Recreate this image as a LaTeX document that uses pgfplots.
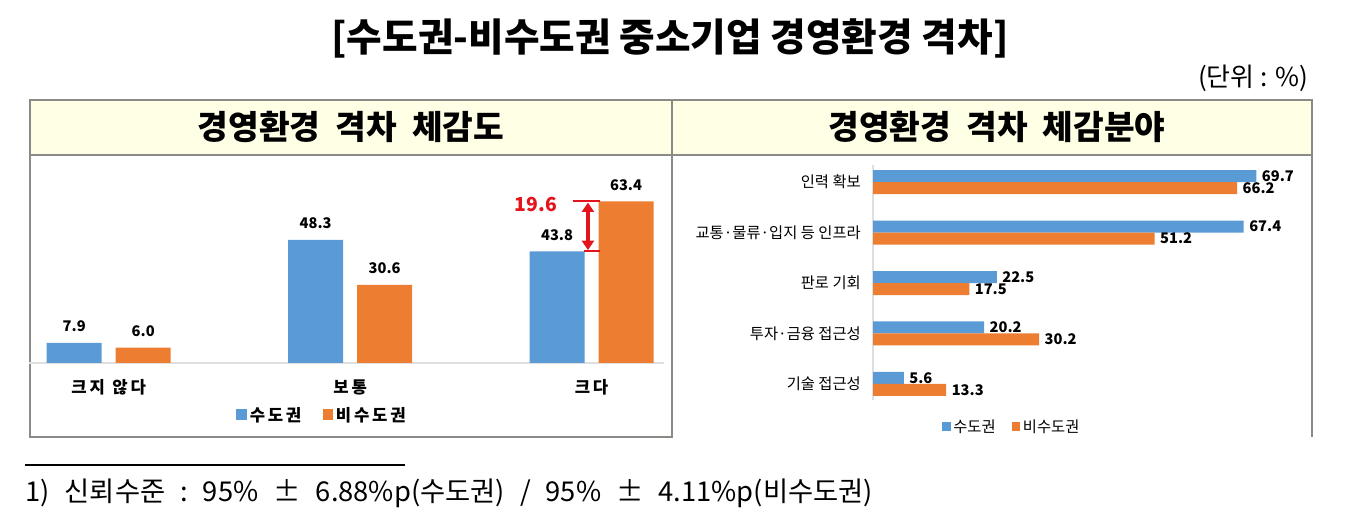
\documentclass[border=0pt]{standalone}
\usepackage{fontspec}
\setmainfont{Noto Sans CJK KR}
\usepackage{pgfplots}
\pgfplotsset{compat=1.18}
\usetikzlibrary{arrows.meta}
\definecolor{cBlue}{HTML}{5B9BD5}
\definecolor{cOrange}{HTML}{ED7D31}
\definecolor{cRed}{HTML}{E3141B}
\definecolor{cFrame}{HTML}{8A8A86}
\definecolor{cHead}{HTML}{FFFFE6}
\newcommand{\gap}{\hspace{0.55em}}
\begin{document}
\begin{tikzpicture}[x=0.75pt,y=0.75pt]
% page: 1345 x 521 px, y measured upward (521 - y_px)
\path (0,0) rectangle (1345,521);

% titles
\node[font=\bfseries\fontsize{29}{32}\selectfont] at (670,483) {[수도권-비수도권 중소기업 경영환경 격차]};
\node[anchor=east,font=\fontsize{19.5}{22}\selectfont] at (1313,443) {(단위 : \%)};

% header band and frames
\fill[cHead] (30,421) rectangle (1312,366);
\draw[cFrame,line width=1.8pt] (30,84) rectangle (672,421);
\draw[cFrame,line width=1.8pt] (672,421) -- (1312,421) -- (1312,84);
\draw[cFrame,line width=1.8pt] (30,366) -- (1312,366);
\node[font=\bfseries\fontsize{25}{28}\selectfont] at (351,394) {경영환경\ \ 격차\ \ 체감도};
\node[font=\bfseries\fontsize{25}{28}\selectfont] at (997,394) {경영환경\ \ 격차\ \ 체감분야};

% left chart
\begin{axis}[
    at={(21.75pt,118.5pt)}, anchor=south west,
    scale only axis, width=476.25pt, height=153pt,
    ybar=10.5pt, bar width=41.25pt,
    xmin=-0.33, xmax=2.3, ymin=0, ymax=80,
    axis x line*=bottom, axis y line=none,
    x axis line style={gray!25, line width=0.8pt, -},
    xtick=data, xticklabels={크\,지\ \ 않\,다,보\,통,크\,다},
    major tick length=0pt,
    xticklabel style={font=\bfseries\fontsize{12.5}{14}\selectfont, anchor=center, yshift=-18pt},
    /pgf/number format/.cd, fixed, fixed zerofill, precision=1, assume math mode=true, /pgfplots/.cd,
    nodes near coords,
    every node near coord/.append style={font=\bfseries\fontsize{11}{12}\selectfont, black, inner sep=0pt, yshift=8pt},
    legend style={at={(0.462,-0.255)}, anchor=center, draw=none, fill=none,
        legend columns=2, font=\bfseries\fontsize{12.5}{14}\selectfont,
        /tikz/every even column/.append style={column sep=14pt}},
    legend image code/.code={\fill[#1] (0pt,-3.5pt) rectangle (8pt,4.5pt);},
]
\addplot[fill=cBlue, draw=none] coordinates {(0,7.9) (1,48.3) (2,43.8)};
\addlegendentry{수\,도\,권}
\addplot[fill=cOrange, draw=none] coordinates {(0,6.0) (1,30.6) (2,63.4)};
\addlegendentry{비\,수\,도\,권}
% gap annotation
\draw[cRed, line width=1.6pt] (axis cs:1.923,63.4) -- (axis cs:2.035,63.4);
\draw[cRed, line width=1.6pt] (axis cs:1.97,43.8) -- (axis cs:2.035,43.8);
\draw[cRed, line width=3pt, {Triangle[length=7pt,width=9pt]}-{Triangle[length=7pt,width=9pt]}]
    (axis cs:1.985,62.9) -- (axis cs:1.985,44.3);
\node[cRed, font=\bfseries\fontsize{14.5}{16}\selectfont] at (axis cs:1.77,62.0) {19.6};
\end{axis}

% right chart
\begin{axis}[
    at={(654.75pt,90.75pt)}, anchor=south west,
    scale only axis, width=330pt, height=176.25pt,
    xbar, bar width=9pt,
    xmin=0, xmax=80, ymin=-0.32, ymax=4.34,
    axis y line*=left, axis x line=none,
    y axis line style={gray!25, line width=0.8pt, -},
    ytick={0,1,2,3,4},
    yticklabels={기술 접근성,투자·금융 접근성,판로 기회,교통·물류·입지 등 인프라,인력 확보},
    major tick length=0pt,
    yticklabel style={font=\fontsize{11.5}{13}\selectfont, anchor=east, inner sep=0pt, xshift=-9pt},
    /pgf/number format/.cd, fixed, fixed zerofill, precision=1, assume math mode=true, /pgfplots/.cd,
    nodes near coords,
    every node near coord/.append style={font=\bfseries\fontsize{11}{12}\selectfont, black, anchor=west, inner sep=0pt, xshift=4pt},
    legend style={at={(0.316,-0.115)}, anchor=center, draw=none, fill=none,
        legend columns=2, font=\fontsize{11.5}{13}\selectfont,
        /tikz/every even column/.append style={column sep=10pt}},
    legend image code/.code={\fill[#1] (0pt,-3pt) rectangle (6.5pt,3.5pt);},
]
\addplot[fill=cBlue, draw=none, bar shift=4.5pt] coordinates {(69.7,4) (67.4,3) (22.5,2) (20.2,1) (5.6,0)};
\addlegendentry{수도권}
\addplot[fill=cOrange, draw=none, bar shift=-4.5pt] coordinates {(66.2,4) (51.2,3) (17.5,2) (30.2,1) (13.3,0)};
\addlegendentry{비수도권}
\end{axis}

% footnote
\draw[black, line width=1.6pt] (25,56) -- (405,56);
\node[anchor=west, inner sep=0pt, font=\fontsize{20.5}{23}\selectfont] at (25,28)
    {1)\gap 신뢰수준\gap :\gap 95\%\gap ±\gap 6.88\%p(수도권)\gap /\gap 95\%\gap ±\gap 4.11\%p(비수도권)};
\end{tikzpicture}
\end{document}
